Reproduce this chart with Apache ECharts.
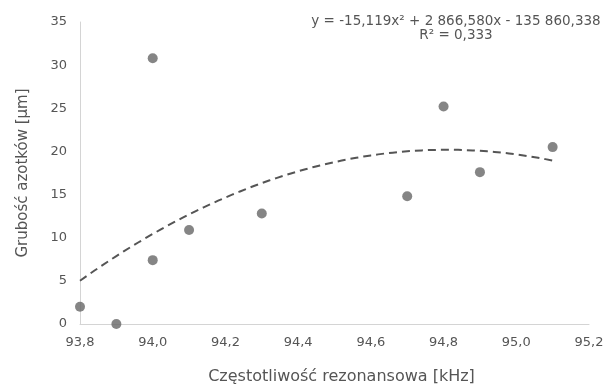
<!DOCTYPE html>
<html>
<head>
<meta charset="utf-8">
<script src="https://cdn.jsdelivr.net/npm/echarts@6/dist/echarts.min.js"></script>
<style>
  html, body { margin: 0; padding: 0; background: #fff; }
  #chart { width: 616px; height: 390px; }
</style>
</head>
<body>
<div id="chart"></div>
<script>
const freqs = [93.8, 93.9, 94.0, 94.0, 94.1, 94.3, 94.7, 94.8, 94.9, 95.1];
const thickness = [2.0, 0.0, 30.8, 7.4, 10.9, 12.8, 14.8, 25.2, 17.6, 20.5];
const xTicks = [93.8, 94.0, 94.2, 94.4, 94.6, 94.8, 95.0, 95.2];
const equationText = 'y = -15,119x² + 2 866,580x - 135 860,338\nR² = 0,333';

// least squares quadratic fit (centered x for numeric stability)
function quadFit(xs, ys) {
  const m = xs.reduce((a, b) => a + b, 0) / xs.length;
  const s = [0, 0, 0, 0, 0], t = [0, 0, 0];
  xs.forEach((x, i) => {
    const u = x - m;
    for (let k = 0; k < 5; k++) s[k] += Math.pow(u, k);
    for (let k = 0; k < 3; k++) t[k] += ys[i] * Math.pow(u, k);
  });
  const A = [[s[0], s[1], s[2]], [s[1], s[2], s[3]], [s[2], s[3], s[4]]];
  const det = M => M[0][0] * (M[1][1] * M[2][2] - M[1][2] * M[2][1])
    - M[0][1] * (M[1][0] * M[2][2] - M[1][2] * M[2][0])
    + M[0][2] * (M[1][0] * M[2][1] - M[1][1] * M[2][0]);
  const D = det(A);
  const c = [0, 1, 2].map(j => det(A.map((row, r) => row.map((v, k) => (k === j ? t[r] : v)))) / D);
  return x => c[0] + c[1] * (x - m) + c[2] * (x - m) * (x - m);
}

const fit = quadFit(freqs, thickness);
const trend = [];
for (let i = 0; i <= 65; i++) {
  const x = freqs[0] + (freqs[freqs.length - 1] - freqs[0]) * i / 65;
  trend.push([x, fit(x)]);
}

const textColor = '#555';
const font = 'DejaVu Sans, Verdana, sans-serif';
const chart = echarts.init(document.getElementById('chart'));
chart.setOption({
  animation: false,
  textStyle: { fontFamily: font },
  grid: { left: 80, right: 27, top: 22, bottom: 66, outerBoundsMode: 'none', containLabel: false },
  graphic: [{
    type: 'text',
    x: 456,
    y: 14,
    style: {
      text: equationText,
      align: 'center',
      verticalAlign: 'top',
      fill: textColor,
      font: '13.5px ' + font,
      lineHeight: 14
    }
  }],
  xAxis: {
    type: 'value',
    min: 93.8,
    max: 95.2,
    interval: 0.2,
    name: 'Częstotliwość rezonansowa [kHz]',
    nameLocation: 'middle',
    nameGap: 45,
    nameTextStyle: { color: textColor, fontSize: 16, padding: [0, 0, 0, 14] },
    axisLine: { lineStyle: { color: '#d4d4d4' } },
    axisTick: { show: false },
    splitLine: { show: false },
    axisLabel: {
      color: textColor,
      fontSize: 13,
      margin: 12,
      formatter: v => v.toFixed(1).replace('.', ',')
    }
  },
  yAxis: {
    type: 'value',
    min: 0,
    max: 35,
    interval: 5,
    name: 'Grubość azotków [µm]',
    nameLocation: 'middle',
    nameGap: 49,
    nameTextStyle: { color: textColor, fontSize: 15 },
    axisLine: { show: true, lineStyle: { color: '#d4d4d4' } },
    axisTick: { show: false },
    splitLine: { show: false },
    axisLabel: { color: textColor, fontSize: 13, margin: 13 }
  },
  series: [
    {
      type: 'scatter',
      data: freqs.map((f, i) => [f, thickness[i]]),
      symbolSize: 10,
      itemStyle: { color: '#666' },
      z: 3
    },
    {
      type: 'line',
      data: trend,
      showSymbol: false,
      smooth: false,
      lineStyle: { color: '#555', width: 2, type: [8, 5] },
      z: 2
    }
  ]
});
</script>
</body>
</html>
